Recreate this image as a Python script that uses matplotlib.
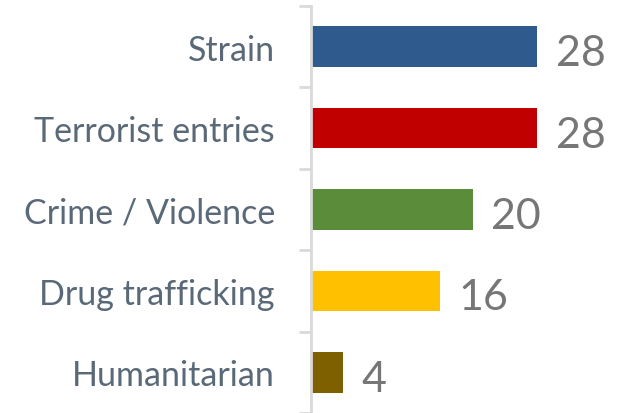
import matplotlib
matplotlib.use("Agg")
import matplotlib.pyplot as plt
import numpy as np

categories = ["Strain", "Terrorist entries", "Crime / Violence", "Drug trafficking", "Humanitarian"]
values = [28, 28, 20, 16, 4]
colors = ["#2E5A8E", "#C00000", "#5B8C3A", "#FFC000", "#7F6000"]

plt.rcParams["font.family"] = ["Lato", "DejaVu Sans"]

fig = plt.figure(figsize=(6.31, 4.14), dpi=100)
ax = fig.add_axes([311 / 631, 0, 320 / 631, 407 / 414])

y = np.arange(len(categories))
ax.barh(y, values, height=0.5, color=colors)

ax.set_xlim(0, 39.6)
ax.set_ylim(len(categories) - 0.5, -0.5)

for yi, v in zip(y, values):
    ax.text(v + 2.3, yi + 0.08, str(v), va="center", ha="left",
            fontsize=31, color="#767676")

ax.set_yticks(y)
ax.set_yticklabels(categories, fontsize=24.5, color="#5A6978")
ax.tick_params(axis="y", which="major", length=0, pad=26)
ax.set_yticks(np.arange(-0.5, len(categories)), minor=True)
ax.tick_params(axis="y", which="minor", length=8.5, width=2, color="#D9D9D9", direction="out")
ax.set_xticks([])

for s in ["top", "right", "bottom"]:
    ax.spines[s].set_visible(False)
ax.spines["left"].set_color("#D9D9D9")
ax.spines["left"].set_linewidth(2)

fig.savefig("out.png", dpi=100)
